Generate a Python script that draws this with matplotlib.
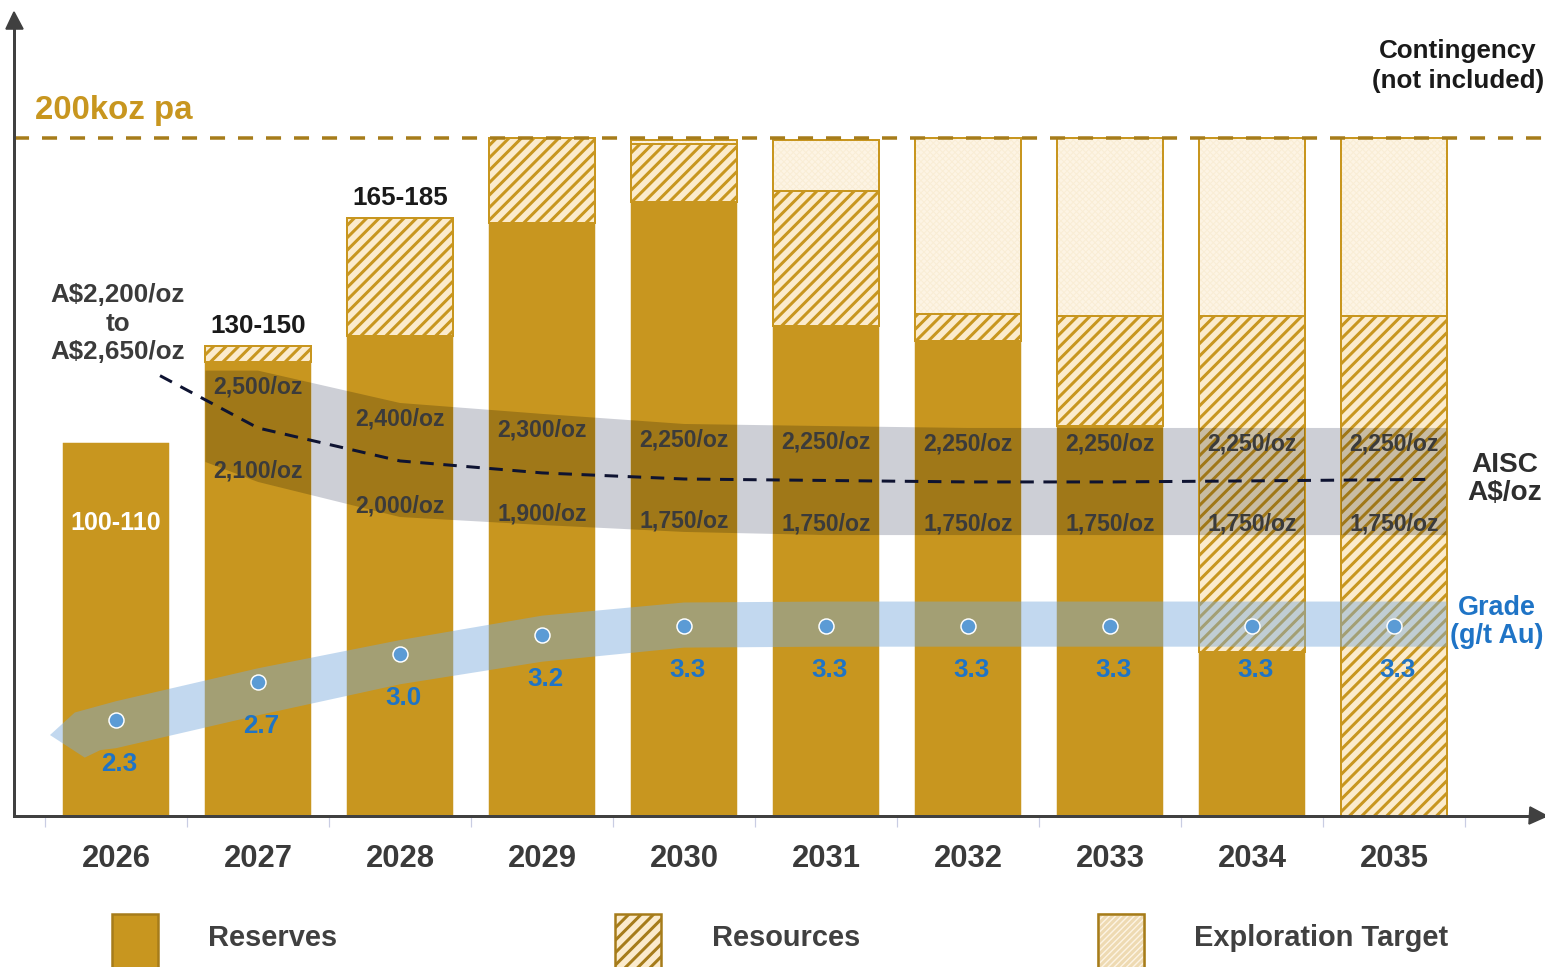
import numpy as np
import matplotlib
matplotlib.use("Agg")
import matplotlib.pyplot as plt
from matplotlib.patches import Polygon, Rectangle
import matplotlib.transforms as mtransforms

# ---------------- data ----------------
years = ["2026", "2027", "2028", "2029", "2030", "2031", "2032", "2033", "2034", "2035"]
reserves_koz = [110, 134, 141.5, 175, 181, 144.5, 140, 115, 48.5, 0]
resources_koz = [0, 4.7, 35, 25, 17.3, 40, 8, 32.5, 99, 147.5]
exploration_koz = [0, 0, 0, 0, 1, 15, 52, 52.5, 52.5, 52.5]
production_labels = ["100-110", "130-150", "165-185", "", "", "", "", "", "", ""]
capacity_koz = 200
capacity_label = "200koz pa"
contingency_label = "Contingency\n(not included)"

grade_gt = [2.3, 2.7, 3.0, 3.2, 3.3, 3.3, 3.3, 3.3, 3.3, 3.3]
grade_labels = ["2.3", "2.7", "3.0", "3.2", "3.3", "3.3", "3.3", "3.3", "3.3", "3.3"]
grade_band_upper = [2.50, 2.85, 3.15, 3.41, 3.55, 3.56, 3.56, 3.56, 3.56, 3.56]
grade_band_lower = [2.00, 2.35, 2.68, 2.92, 3.07, 3.08, 3.08, 3.08, 3.08, 3.08]

aisc_high_labels = ["", "2,500/oz", "2,400/oz", "2,300/oz", "2,250/oz", "2,250/oz",
                    "2,250/oz", "2,250/oz", "2,250/oz", "2,250/oz"]
aisc_low_labels = ["", "2,100/oz", "2,000/oz", "1,900/oz", "1,750/oz", "1,750/oz",
                   "1,750/oz", "1,750/oz", "1,750/oz", "1,750/oz"]
aisc_band_top = [np.nan, 2535, 2381, 2329, 2281, 2271, 2262, 2262, 2262, 2262]
aisc_band_bottom = [np.nan, 2005, 1838, 1800, 1767, 1752, 1752, 1752, 1752, 1752]
aisc_band_start_bottom = 2100
aisc_trend = [2511, 2262, 2105, 2048, 2019, 2012, 2005, 2005, 2010, 2017]
aisc_guidance = "A$2,200/oz\nto\nA$2,650/oz"
aisc_axis_label = "AISC\nA$/oz"
grade_axis_label = "Grade\n(g/t Au)"
legend_labels = ["Reserves", "Resources", "Exploration Target"]

# ---------------- style ----------------
W, H, DPI = 1545, 967, 112
PT = DPI / 72.0          # pixels per point


def fs(px):              # size given in pixels -> points
    return px / PT


GOLD = "#C8961F"
GOLD_DARK = "#A67C1A"
CREAM = "#FBEBCC"
PALE = "#FDF4E4"
PALE_HATCH = "#F9EDD5"
GREY_BAND = "#CDCFD6"
TEXT_DARK = "#3B3B3B"
BLUE_TEXT = "#1F74C6"
REG = ["Liberation Sans", "DejaVu Sans"]

plt.rcParams["hatch.linewidth"] = fs(3.0)

fig = plt.figure(figsize=(W / DPI, H / DPI), dpi=DPI)
ax_left, ax_right, ax_bottom, ax_top = 14, 1545, 816, 20
ax = fig.add_axes([ax_left / W, (H - ax_bottom) / H, (ax_right - ax_left) / W,
                   (ax_bottom - ax_top) / H])
n = len(years)
x = np.arange(n)
w = 0.74
px_per_koz = 3.39
ax.set_xlim((ax_left - 116) / 142.0, (ax_right - 116) / 142.0)
ax.set_ylim(0, (ax_bottom - ax_top) / px_per_koz)

# secondary scales (AISC A$/oz and grade g/t mapped onto the koz axis)
AISC_K, AISC_B = 0.061947, -25.66
GRADE_K, GRADE_B = 27.73, -35.46
aisc_tr = mtransforms.Affine2D().scale(1, AISC_K).translate(0, AISC_B) + ax.transData
grade_tr = mtransforms.Affine2D().scale(1, GRADE_K).translate(0, GRADE_B) + ax.transData

res = np.array(reserves_koz, float)
rsc = np.array(resources_koz, float)
exp_ = np.array(exploration_koz, float)
totals = res + rsc + exp_

# AISC band polygon
bx = [1 - w / 2] + list(x[1:]) + [x[-1] + w / 2]
btop = [aisc_band_top[1]] + aisc_band_top[1:] + [aisc_band_top[-1]]
bbot = [aisc_band_start_bottom] + aisc_band_bottom[1:] + [aisc_band_bottom[-1]]
band_verts = list(zip(bx, btop)) + list(zip(bx[::-1], bbot[::-1]))
ax.add_patch(Polygon(band_verts, closed=True, transform=aisc_tr, facecolor=GREY_BAND,
                     edgecolor="none", zorder=1))

# bars
m = res > 0
ax.bar(x[m], res[m], w, color=GOLD, edgecolor=GOLD, linewidth=0.3, zorder=2)
m = rsc > 0
ax.bar(x[m], rsc[m], w, bottom=res[m], color=CREAM, edgecolor=GOLD, hatch="///",
       linewidth=fs(2), zorder=2)
m = exp_ > 0
with plt.rc_context({"hatch.linewidth": fs(1.0)}):
    ax.bar(x[m], exp_[m], w, bottom=(res + rsc)[m], color=PALE, edgecolor=PALE_HATCH,
           hatch="xxxxxx", linewidth=0, zorder=2)
ax.bar(x[m], exp_[m], w, bottom=(res + rsc)[m], fill=False, edgecolor=GOLD,
       linewidth=fs(2), zorder=2.1)

# darkening of AISC band where it overlaps the bars
for i in range(n):
    clip = Rectangle((x[i] - w / 2, 0), w, totals[i], transform=ax.transData)
    p = Polygon(band_verts, closed=True, transform=aisc_tr, facecolor="black",
                alpha=0.2, edgecolor="none", zorder=3)
    ax.add_patch(p)
    p.set_clip_path(clip)

# grade band (arrow pointing left)
up0, lo0 = grade_band_upper[0], grade_band_lower[0]
mid0 = (up0 + lo0) / 2
gverts = [(-0.465, mid0 - 0.11), (-0.29, up0 - 0.12)]
gverts += list(zip(x, grade_band_upper)) + [(x[-1] + w / 2, grade_band_upper[-1]),
                                            (x[-1] + w / 2, grade_band_lower[-1])]
gverts += list(zip(x[::-1], grade_band_lower[::-1]))
gverts += [(-0.11, lo0 - 0.02), (-0.22, lo0 - 0.10)]
ax.add_patch(Polygon(gverts, closed=True, transform=grade_tr, facecolor="#78AADC",
                     alpha=0.45, edgecolor="none", zorder=4))

# capacity line
ax.axhline(capacity_koz, color=GOLD_DARK, lw=fs(3.5), ls=(0, (4.3, 3.7)), zorder=5)
ax.annotate(capacity_label, xy=((35 - ax_left) / (ax_right - ax_left), capacity_koz),
            xycoords=("axes fraction", "data"), xytext=(0, fs(27)),
            textcoords="offset points", ha="left", va="center", fontsize=fs(33),
            fontweight="bold", color=GOLD, family=REG)
ax.annotate(contingency_label, xy=(9.45, capacity_koz), xytext=(0, fs(72)),
            textcoords="offset points", ha="center", va="center", fontsize=fs(26),
            fontweight="bold", color="#1A1A1A", family=REG, linespacing=1.3,
            annotation_clip=False)

# AISC trend line
tx = x.astype(float).copy()
tx[0] += 0.31
tx[-1] += 0.22
ax.plot(tx, aisc_trend, transform=aisc_tr, color="#0E1331", lw=fs(3),
        ls=(0, (4.5, 3.2)), zorder=5)
ax.annotate(aisc_guidance, xy=(tx[0], aisc_trend[0]), xycoords=aisc_tr,
            xytext=(fs(-42), fs(52)), textcoords="offset points", ha="center",
            va="center", fontsize=fs(26), fontweight="bold", color=TEXT_DARK,
            family=REG, linespacing=1.25)
ax.annotate(aisc_axis_label, xy=(tx[-1], aisc_trend[-1]), xycoords=aisc_tr,
            xytext=(fs(79), 0), textcoords="offset points", ha="center",
            va="center", fontsize=fs(28), fontweight="bold", color="#2E2E2E",
            family=REG, linespacing=1.1, annotation_clip=False)

# AISC labels
for i in range(n):
    if aisc_high_labels[i]:
        ax.annotate(aisc_high_labels[i], xy=(x[i], aisc_band_top[i]), xycoords=aisc_tr,
                    xytext=(0, fs(-16)), textcoords="offset points", ha="center",
                    va="center", fontsize=fs(23), fontweight="bold", color=TEXT_DARK,
                    family=REG, zorder=6)
        ax.annotate(aisc_low_labels[i], xy=(x[i], aisc_band_bottom[i]), xycoords=aisc_tr,
                    xytext=(0, fs(11)), textcoords="offset points", ha="center",
                    va="center", fontsize=fs(23), fontweight="bold", color=TEXT_DARK,
                    family=REG, zorder=6)

# grade points and labels
ax.plot(x, grade_gt, transform=grade_tr, ls="none", marker="o", ms=fs(15),
        mfc="#5B9BD5", mec="white", mew=fs(1.5), zorder=7)
for i in range(n):
    ax.annotate(grade_labels[i], xy=(x[i], grade_gt[i]), xycoords=grade_tr,
                xytext=(fs(3), fs(-44)), textcoords="offset points", ha="center",
                va="center", fontsize=fs(26), fontweight="bold", color=BLUE_TEXT,
                family=REG, zorder=7)
ax.annotate(grade_axis_label, xy=(x[-1], grade_gt[-1]), xycoords=grade_tr,
            xytext=(fs(103), fs(4)), textcoords="offset points", ha="center",
            va="center", fontsize=fs(27), fontweight="bold", color=BLUE_TEXT,
            family=REG, linespacing=1.1, annotation_clip=False)

# production labels
for i in range(n):
    lab = production_labels[i]
    if not lab:
        continue
    if i == 0:
        ax.annotate(lab, xy=(x[i], totals[i]), xytext=(0, fs(-80)),
                    textcoords="offset points", ha="center", va="center",
                    fontsize=fs(25), fontweight="bold", color="white", family=REG,
                    zorder=7)
    else:
        ax.annotate(lab, xy=(x[i], totals[i]), xytext=(0, fs(20)),
                    textcoords="offset points", ha="center", va="center",
                    fontsize=fs(26), fontweight="bold", color="#1A1A1A", family=REG,
                    zorder=7)

# axes styling
for s in ["top", "right"]:
    ax.spines[s].set_visible(False)
for s in ["left", "bottom"]:
    ax.spines[s].set_color("#404040")
    ax.spines[s].set_linewidth(fs(3))
    ax.spines[s].set_zorder(8)
ax.set_yticks([])
ax.set_xticks(x, years)
ax.set_xticks(np.arange(-0.5, n, 1.0), minor=True)
ax.tick_params(axis="x", which="major", length=0, pad=fs(28), labelsize=fs(31),
               labelcolor="#3A3A3A")
ax.tick_params(axis="x", which="minor", length=fs(11), width=fs(1.2), color="#C9CDE3",
               direction="out")
for lab in ax.get_xticklabels():
    lab.set_fontweight("bold")
    lab.set_family(REG)
ax.plot([0], [1], marker="^", ms=fs(17), color="#404040", transform=ax.transAxes,
        clip_on=False, zorder=9)
ax.plot([(1538 - ax_left) / (ax_right - ax_left)], [0], marker=">", ms=fs(17),
        color="#404040", transform=ax.transAxes, clip_on=False, zorder=9)


# legend
def fx(px):
    return px / W


def fy(py):
    return 1 - py / H


leg_boxes = [(112, 158), (615, 661), (1098, 1144)]
leg_text_x = [208, 712, 1194]
styles = [
    dict(facecolor=GOLD, edgecolor=GOLD_DARK),
    dict(facecolor=CREAM, edgecolor=GOLD_DARK, hatch="///"),
    dict(facecolor=PALE, edgecolor="#EEDAB2", hatch="//////"),
]
for (x0, x1), tx_, lab, st in zip(leg_boxes, leg_text_x, legend_labels, styles):
    r = Rectangle((fx(x0), fy(975)), fx(x1 - x0), (975 - 914) / H,
                  transform=fig.transFigure, linewidth=fs(2.5), **st)
    fig.add_artist(r)
    if "hatch" in st and st["edgecolor"] != GOLD_DARK:
        fig.add_artist(Rectangle((fx(x0), fy(975)), fx(x1 - x0), (975 - 914) / H,
                                 transform=fig.transFigure, fill=False,
                                 edgecolor=GOLD_DARK, linewidth=fs(2.5)))
    fig.text(fx(tx_), fy(938), lab, ha="left", va="center", fontsize=fs(29),
             fontweight="bold", color="#404040", family=REG)

fig.savefig("out.png", dpi=DPI)
